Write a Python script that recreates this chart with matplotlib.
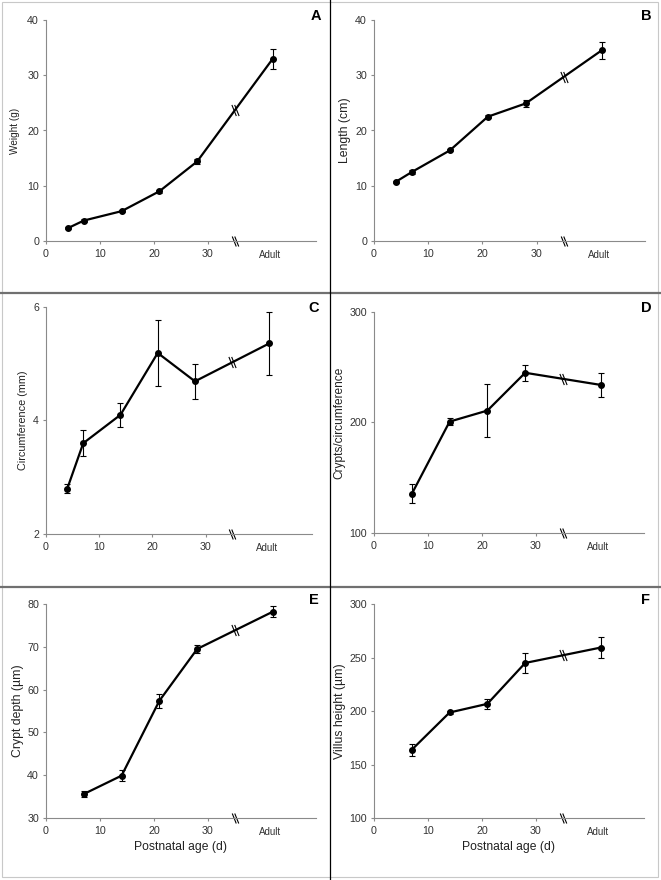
import numpy as np
import matplotlib
matplotlib.use('Agg')
import matplotlib.pyplot as plt
from matplotlib.path import Path
from matplotlib.lines import Line2D
from matplotlib.patches import Rectangle

plt.rcParams['font.family'] = ['Liberation Sans', 'DejaVu Sans']

# postnatal days sampled; the adult group is drawn at a fake x past the axis break
days_ab = [4, 7, 14, 21, 28]
days_c = [4, 7, 14, 21, 28]
days_def = [7, 14, 21, 28]
ADULT_X = 42
BREAK_X = 35

weight = [2.3, 3.7, 5.4, 9.0, 14.4, 33.0]
weight_err = [0.2, 0.2, 0.2, 0.3, 0.5, 1.8]

length = [10.7, 12.5, 16.4, 22.5, 24.9, 34.5]
length_err = [0.2, 0.4, 0.2, 0.3, 0.7, 1.5]

circ = [2.80, 3.60, 4.10, 5.19, 4.69, 5.36]
circ_err = [0.08, 0.23, 0.21, 0.58, 0.31, 0.55]

crypts = [135.4, 200.8, 210.8, 245.0, 234.0]
crypts_err = [8.6, 3.5, 23.6, 7.0, 10.5]

depth = [35.6, 39.9, 57.4, 69.5, 78.2]
depth_err = [0.7, 1.2, 1.6, 0.9, 1.3]

villus = [163.8, 198.6, 206.7, 244.9, 259.3]
villus_err = [5.4, 1.5, 4.4, 9.6, 9.8]

W, H = 661, 880
fig = plt.figure(figsize=(W / 100, H / 100), dpi=100)


def rect(left, right, top, bottom):
    return [left / W, 1 - bottom / H, (right - left) / W, (bottom - top) / H]


# two slanted strokes, like the "\\" break sign
brk = Path([(-3.25, 5), (0.75, -5), (-0.75, 5), (3.25, -5)],
           [Path.MOVETO, Path.LINETO, Path.MOVETO, Path.LINETO])

panels = [
    ('A', rect(46, 316, 20, 241), days_ab, weight, weight_err, 'Weight (g)', 7.2,
     (0, 40), [0, 10, 20, 30, 40], -0.096, (321, 16)),
    ('B', rect(374, 645, 20, 241), days_ab, length, length_err, 'Length (cm)', 8.8,
     (0, 40), [0, 10, 20, 30, 40], -0.085, (652, 16)),
    ('C', rect(46, 312, 307, 534), days_c, circ, circ_err, 'Circumference (mm)', 7.8,
     (2, 6), [2, 4, 6], -0.067, (319, 308)),
    ('D', rect(374, 644, 312, 533), days_def, crypts, crypts_err, 'Crypts/circumference', 8.6,
     (100, 300), [100, 200, 300], -0.107, (652, 308)),
    ('E', rect(46, 316, 604, 818), days_def, depth, depth_err, 'Crypt depth (\u00b5m)', 8.8,
     (30, 80), [30, 40, 50, 60, 70, 80], -0.081, (319, 600)),
    ('F', rect(374, 644, 604, 818), days_def, villus, villus_err, 'Villus height (\u00b5m)', 8.8,
     (100, 300), [100, 150, 200, 250, 300], -0.104, (650, 600)),
]

for letter, pos, days, vals, errs, ylab, ylsize, ylim, yticks, labx, lpos in panels:
    ax = fig.add_axes(pos)
    x = list(days) + [ADULT_X]
    ax.errorbar(x, vals, yerr=errs, color='black', lw=1.6, marker='o', ms=4,
                elinewidth=0.8, capsize=2.5, capthick=0.8)
    ax.set_xlim(0, 50)
    ax.set_ylim(*ylim)
    ax.set_xticks([0, 10, 20, 30])
    ax.set_yticks(yticks)
    for s in ['top', 'right']:
        ax.spines[s].set_visible(False)
    for s in ['left', 'bottom']:
        ax.spines[s].set_color('#8a8a8a')
        ax.spines[s].set_linewidth(0.8)
    ax.tick_params(length=2.5, width=0.8, color='#8a8a8a', pad=2.5,
                   labelsize=7.7, labelcolor='#333333')
    ax.tick_params(axis='x', pad=3.5)
    ax.set_ylabel(ylab, fontsize=ylsize, color='#222222')
    ax.yaxis.set_label_coords(labx, 0.5)

    # break signs on the line and on the x axis
    yb = np.interp(BREAK_X, [x[-2], x[-1]], [vals[-2], vals[-1]])
    ax.plot(BREAK_X, yb, marker=brk, ms=8, mew=0.8, color='black', ls='none')
    ax.plot(BREAK_X, ylim[0], marker=brk, ms=7.2, mew=0.8, color='black',
            ls='none', clip_on=False)
    ax.annotate('Adult', xy=(ADULT_X - 0.5, ylim[0]), xytext=(0, -6.5),
                textcoords='offset points', ha='center', va='top',
                fontsize=7, color='#333333', annotation_clip=False)

    if letter in ('E', 'F'):
        ax.set_xlabel('Postnatal age (d)', fontsize=8.7, color='#222222')
        ax.xaxis.set_label_coords(0.5, -0.107)

    fig.text(lpos[0] / W, 1 - lpos[1] / H, letter, ha='right', va='center',
             fontsize=10.5, fontweight='bold')

# panel dividers and outer frame
for yy in (293, 587):
    fig.add_artist(Line2D([0, 1], [1 - yy / H, 1 - yy / H], color='#707070', lw=1.6))
fig.add_artist(Line2D([330 / W, 330 / W], [0, 1], color='black', lw=0.9))
fig.add_artist(Rectangle((2 / W, 3 / H), 656 / W, 875 / H, fill=False,
                         edgecolor='#c8c8c8', lw=0.8))

fig.savefig('out.png', dpi=100)
